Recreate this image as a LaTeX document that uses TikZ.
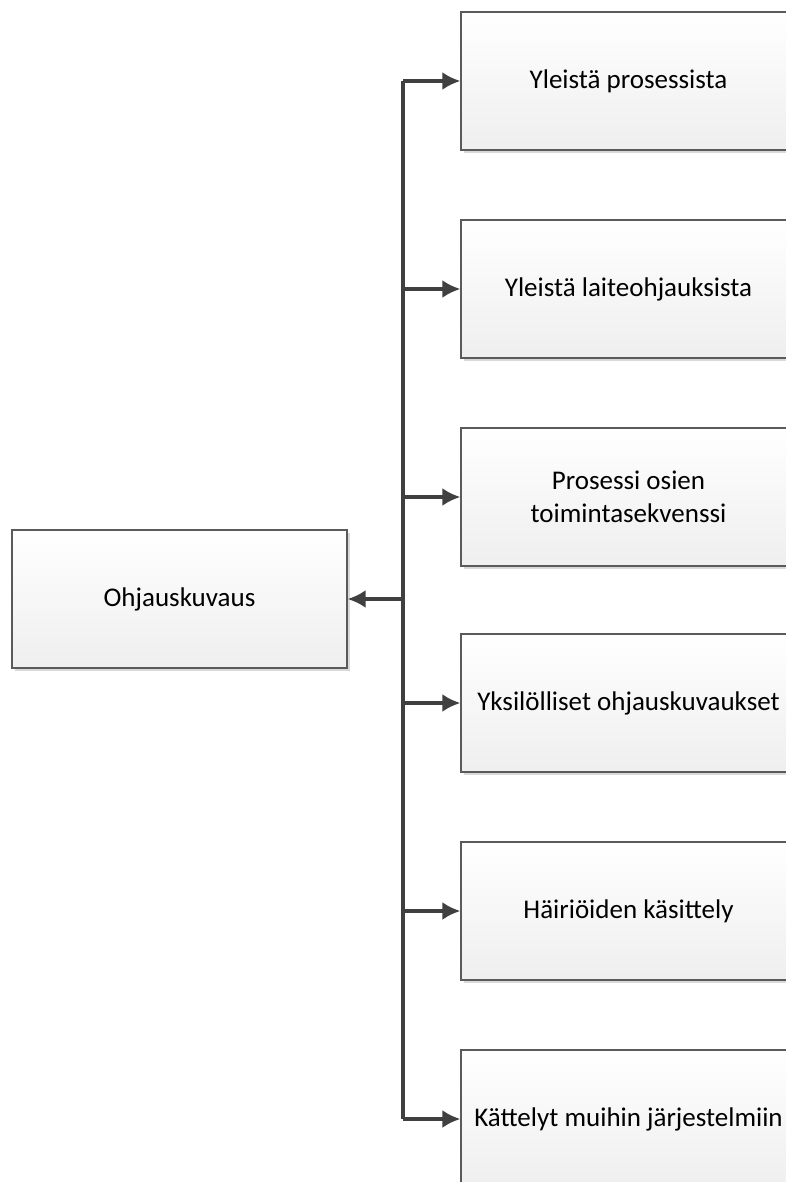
\documentclass[tikz,border=0pt]{standalone}
\usepackage{fontspec}
\setmainfont{Carlito}
\usetikzlibrary{positioning, arrows.meta, shadows}
\definecolor{linegray}{HTML}{404040}
\definecolor{boxgray}{HTML}{5A5A5A}

\begin{document}
\begin{tikzpicture}[x=1pt, y=-1pt, line width=3.5pt,
  kuvausbox/.style={draw=boxgray, line width=1.2pt, rectangle, top color=white, bottom color=gray!13,
    minimum width=335pt, minimum height=138pt, inner sep=0pt, align=center, font=\fontsize{27}{33}\selectfont,
    drop shadow={shadow xshift=3pt, shadow yshift=-3pt, fill=gray!30, opacity=1}},
  yhteys/.style={draw=linegray, line width=3.5pt},
  nuoli/.style={yhteys, -{Latex[length=18pt,width=18pt]}}]
\useasboundingbox (0,0) rectangle (786,1182);
\clip (0,0) rectangle (786,1182);
\node (ohjaus) [kuvausbox] at (179.5,599) {Ohjauskuvaus};
\node (prosessi) [kuvausbox] at (628.5,81) {Yleistä prosessista};
\node (laite) [kuvausbox] at (628.5,289) {Yleistä laiteohjauksista};
\node (sekvenssi) [kuvausbox] at (628.5,497) {Prosessi osien\\toimintasekvenssi};
\node (yksilo) [kuvausbox] at (628.5,703) {Yksilölliset ohjauskuvaukset};
\node (hairio) [kuvausbox] at (628.5,911) {Häiriöiden käsittely};
\node (kattely) [kuvausbox] at (628.5,1119) {Kättelyt muihin järjestelmiin};
\coordinate (runko) at (403,599);
\draw[yhteys] (runko |- prosessi.west) -- (runko |- kattely.west);
\draw[nuoli] (runko) -- (ohjaus.east);
\foreach \kohde in {prosessi, laite, sekvenssi, yksilo, hairio, kattely}
  \draw[nuoli] (runko |- \kohde.west) -- (\kohde.west);
\end{tikzpicture}
\end{document}
